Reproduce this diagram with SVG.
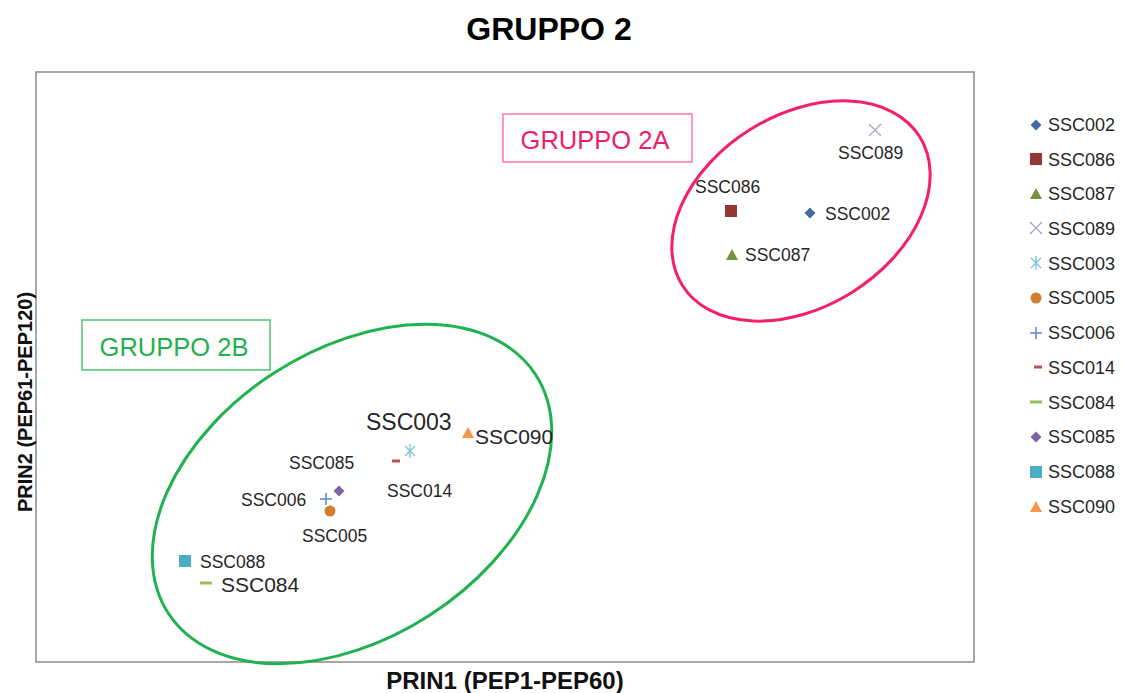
<svg xmlns="http://www.w3.org/2000/svg" xmlns:xlink="http://www.w3.org/1999/xlink" width="1122" height="693" viewBox="0 0 1122 693">
<style>
text{font-family:"Liberation Sans",Arial,sans-serif;}
.title{font-size:32px;font-weight:bold;fill:#000;}
.axis{font-weight:bold;fill:#111;}
.lbl{font-size:17.5px;fill:#262626;}
.big{font-size:21px;}
.big2{font-size:23px;}
.leg{font-size:18px;fill:#262626;}
.grpA{font-size:25.5px;fill:#EE1E6C;}
.grpB{font-size:25.5px;fill:#22B14C;}
</style>
<defs>
<path id="m-diamond" d="M0,-5.5 L5.5,0 L0,5.5 L-5.5,0Z"/>
<rect id="m-square" x="-6" y="-6" width="12" height="12"/>
<path id="m-tri" d="M0,-6 L6,5 L-6,5Z"/>
<path id="m-x" d="M-6,-6 L6,6 M-6,6 L6,-6" fill="none" stroke="#ABA5CB" stroke-width="1.4"/>
<path id="m-ast" d="M-5,-5 L5,5 M-5,5 L5,-5 M0,-7 L0,7" fill="none" stroke="#7FC4D6" stroke-width="1.4"/>
<circle id="m-circ" r="5.5"/>
<path id="m-plus" d="M-6,0 L6,0 M0,-6 L0,6" fill="none" stroke="#5B87C4" stroke-width="1.5"/>
<rect id="m-dashs" x="-4" y="-1.5" width="8" height="3"/>
<rect id="m-dashl" x="-6" y="-1.5" width="12" height="3"/>
</defs>
<rect width="1122" height="693" fill="#fff"/>
<text class="title" x="549" y="40" text-anchor="middle">GRUPPO 2</text>
<rect x="36" y="72" width="938" height="590" fill="none" stroke="#8a8a8a" stroke-width="1.5"/>
<text class="axis" font-size="20" transform="translate(32,402) rotate(-90)" text-anchor="middle">PRIN2 (PEP61-PEP120)</text>
<text class="axis" font-size="24" x="505" y="689" text-anchor="middle">PRIN1 (PEP1-PEP60)</text>

<g id="group-2a">
<ellipse cx="801" cy="211" rx="140" ry="96" transform="rotate(-32 801 211)" fill="none" stroke="#F51F6E" stroke-width="3"/>
<rect x="503" y="114" width="189" height="48" fill="none" stroke="#FF7BA3" stroke-width="1.5"/>
<text class="grpA" x="595" y="149" text-anchor="middle">GRUPPO 2A</text>
</g>
<g id="group-2b">
<ellipse cx="352" cy="494" rx="219" ry="144" transform="rotate(-33 352 494)" fill="none" stroke="#1FB24E" stroke-width="3"/>
<rect x="82" y="320" width="188" height="50" fill="none" stroke="#4CC475" stroke-width="1.5"/>
<text class="grpB" x="174" y="356" text-anchor="middle">GRUPPO 2B</text>
</g>

<g id="points">
<g id="p-SSC002"><use href="#m-diamond" x="810" y="213" fill="#3F6BA6"/><text class="lbl" x="825" y="220">SSC002</text></g>
<g id="p-SSC086"><use href="#m-square" x="731" y="211" fill="#953735"/><text class="lbl" x="695" y="193">SSC086</text></g>
<g id="p-SSC087"><use href="#m-tri" x="732" y="255" fill="#77933C"/><text class="lbl" x="745" y="261">SSC087</text></g>
<g id="p-SSC089"><use href="#m-x" x="875" y="130"/><text class="lbl" x="838" y="159">SSC089</text></g>
<g id="p-SSC003"><use href="#m-ast" x="410" y="451"/><text class="lbl big2" x="366" y="430">SSC003</text></g>
<g id="p-SSC090"><use href="#m-tri" x="468" y="433" fill="#F79646"/><text class="lbl big" x="475" y="444">SSC090</text></g>
<g id="p-SSC014"><use href="#m-dashs" x="396" y="461" fill="#C0504D"/><text class="lbl" x="387" y="497">SSC014</text></g>
<g id="p-SSC085"><use href="#m-diamond" x="339" y="491" fill="#8064A2"/><text class="lbl" x="289" y="469">SSC085</text></g>
<g id="p-SSC006"><use href="#m-plus" x="326" y="499"/><text class="lbl" x="241" y="506">SSC006</text></g>
<g id="p-SSC005"><use href="#m-circ" x="330" y="511" fill="#D27D30"/><text class="lbl" x="302" y="542">SSC005</text></g>
<g id="p-SSC088"><use href="#m-square" x="185" y="561" fill="#4BACC6"/><text class="lbl" x="200" y="568">SSC088</text></g>
<g id="p-SSC084"><use href="#m-dashl" x="206" y="583" fill="#9BBB59"/><text class="lbl big" x="221" y="592">SSC084</text></g>
</g>

<g id="legend">
<use href="#m-diamond" x="1036" y="125" fill="#3F6BA6"/><text class="leg" x="1048" y="131">SSC002</text>
<use href="#m-square" x="1036" y="159" fill="#953735"/><text class="leg" x="1048" y="166">SSC086</text>
<use href="#m-tri" x="1036" y="194" fill="#77933C"/><text class="leg" x="1048" y="200">SSC087</text>
<use href="#m-x" x="1036" y="228"/><text class="leg" x="1048" y="235">SSC089</text>
<use href="#m-ast" x="1036" y="263"/><text class="leg" x="1048" y="270">SSC003</text>
<use href="#m-circ" x="1036" y="298" fill="#D27D30"/><text class="leg" x="1048" y="304">SSC005</text>
<use href="#m-plus" x="1036" y="333"/><text class="leg" x="1048" y="339">SSC006</text>
<use href="#m-dashs" x="1038" y="367" fill="#C0504D"/><text class="leg" x="1048" y="374">SSC014</text>
<use href="#m-dashl" x="1036" y="402" fill="#9BBB59"/><text class="leg" x="1048" y="409">SSC084</text>
<use href="#m-diamond" x="1036" y="437" fill="#8064A2"/><text class="leg" x="1048" y="443">SSC085</text>
<use href="#m-square" x="1036" y="472" fill="#4BACC6"/><text class="leg" x="1048" y="478">SSC088</text>
<use href="#m-tri" x="1036" y="507" fill="#F79646"/><text class="leg" x="1048" y="513">SSC090</text>
</g>
</svg>
